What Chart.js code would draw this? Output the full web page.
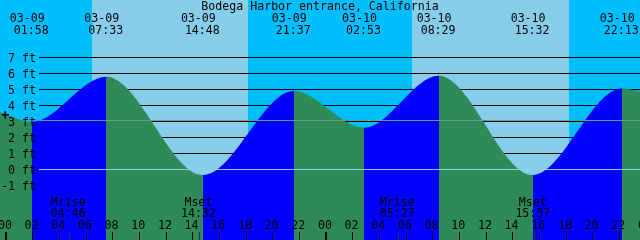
<!DOCTYPE html>
<html><head><meta charset="utf-8">
<script src="https://cdn.jsdelivr.net/npm/chart.js@4/dist/chart.umd.min.js"></script>
<style>html,body{margin:0;padding:0;background:#00BFFF;overflow:hidden}#wrap{width:640px;height:240px;position:relative}</style>
</head><body><div id="wrap"><canvas id="c"></canvas></div>
<script>
const chartTitle = 'Bodega Harbor entrance, California';
// curve points (hours since 03-09 00:00, feet)
const tideHours = [-0.42, 1.967, 7.55, 14.8, 21.617, 26.883, 32.483, 39.533, 46.217, 47.58];
const tideFeet  = [3.55, 2.95, 5.77, -0.38, 4.87, 2.58, 5.83, -0.38, 5.03, 4.85];
// high / low event labels
const eventHours = [1.967, 7.55, 14.8, 21.617, 26.883, 32.483, 39.533, 46.217];
const eventDates = ['03-09','03-09','03-09','03-09','03-10','03-10','03-10','03-10'];
const eventTimes = ['01:58','07:33','14:48','21:37','02:53','08:29','15:32','22:13'];
// daylight
const sunriseHours = [6.48, 30.48];
const sunsetHours  = [18.18, 42.26];
// moon events
const moonHours = [4.767, 14.533, 29.45, 39.617];
const moonNames = ['Mrise','Mset','Mrise','Mset'];
const moonTimes = ['04:46','14:32','05:27','15:37'];
// axis ticks
const hourTicks  = [0,2,4,6,8,10,12,14,16,18,20,22,24,26,28,30,32,34,36,38,40,42,44,46,48];
const hourLabels = ['00','02','04','06','08','10','12','14','16','18','20','22','00','02','04','06','08','10','12','14','16','18','20','22','00'];
const dayStartHours = [0, 24, 48];
const depthTicks  = [7,6,5,4,3,2,1,0,-1];
const depthLabels = ['7 ft','6 ft','5 ft','4 ft','3 ft','2 ft','1 ft','0 ft','-1 ft'];
const mslFeet = 3.06;
const datumFeet = 0;

const NIGHT = '#00BFFF', DAY = '#87CEEB', FLOOD = '#0000FF', EBB = '#2E8B57';
const FONT = '11.6px "DejaVu Sans Mono", monospace';

const points = tideHours.map((h, i) => ({x: h, y: tideFeet[i]}));

// horizontal gradient with hard stops: flood colour while rising, ebb while falling
function tideFill(context) {
  const chart = context.chart;
  const xs = chart.scales && chart.scales.x;
  if (!xs || !chart.chartArea) return FLOOD;
  const {left, right} = chart.chartArea;
  const g = chart.ctx.createLinearGradient(left, 0, right, 0);
  const off = h => Math.min(1, Math.max(0, (xs.getPixelForValue(h) - left) / (right - left)));
  for (let i = 0; i < tideHours.length - 1; i++) {
    const col = tideFeet[i + 1] > tideFeet[i] ? FLOOD : EBB;
    g.addColorStop(off(tideHours[i]), col);
    g.addColorStop(off(tideHours[i + 1]), col);
  }
  return g;
}

const deco = {
  id: 'deco',
  beforeDatasetsDraw(chart) {
    const {ctx} = chart;
    const xs = chart.scales.x, ys = chart.scales.y;
    ctx.save();
    ctx.fillStyle = NIGHT;
    ctx.fillRect(0, 0, 640, 240);
    ctx.fillStyle = DAY;
    for (let i = 0; i < sunriseHours.length; i++) {
      const a = Math.round(xs.getPixelForValue(sunriseHours[i]));
      const b = Math.round(xs.getPixelForValue(sunsetHours[i]));
      ctx.fillRect(a, 0, b - a, 240);
    }
    ctx.fillStyle = '#000';
    depthTicks.forEach(v => {
      const y = Math.round(ys.getPixelForValue(v));
      ctx.fillRect(39, y, 601, 1);
    });
    ctx.restore();
  },
  afterDatasetsDraw(chart) {
    const {ctx} = chart;
    const xs = chart.scales.x, ys = chart.scales.y;
    ctx.save();
    // MSL and datum lines
    ctx.fillStyle = '#5F9E96';
    ctx.fillRect(39, Math.round(ys.getPixelForValue(mslFeet)), 601, 1);
    ctx.fillStyle = '#90CDF0';
    ctx.fillRect(39, Math.round(ys.getPixelForValue(datumFeet)), 601, 1);

    ctx.font = FONT;
    ctx.fillStyle = '#000';
    ctx.textBaseline = 'alphabetic';
    ctx.textAlign = 'center';
    ctx.fillText(chartTitle, 320, 10);
    eventHours.forEach((h, i) => {
      const x = xs.getPixelForValue(h);
      ctx.fillText(eventDates[i], x - 4.6, 22);
      ctx.fillText(eventTimes[i], x - 0.6, 34);
    });
    ctx.textAlign = 'right';
    depthTicks.forEach((v, i) => {
      const y = ys.getPixelForValue(v);
      ctx.fillText(depthLabels[i], 36, y + 4.5);
    });
    // plus marker
    ctx.fillRect(2, 114, 7, 1.5);
    ctx.fillRect(4.5, 111, 1.5, 7.5);
    ctx.textAlign = 'center';
    moonHours.forEach((h, i) => {
      const x = xs.getPixelForValue(h);
      ctx.fillText(moonNames[i], x - 1, 206);
      ctx.fillText(moonTimes[i], x - 1, 217);
      ctx.fillStyle = '#333';
      ctx.fillRect(Math.round(x), 232, 1, 8);
      ctx.fillStyle = '#000';
    });
    hourTicks.forEach((h, i) => {
      const x = xs.getPixelForValue(h);
      ctx.fillText(hourLabels[i], x - 0.7, 229);
      const thick = dayStartHours.includes(h);
      ctx.fillRect(Math.round(x) - (thick ? 1 : 0), 232, thick ? 2 : 1, 8);
    });
    ctx.restore();
  }
};

new Chart(document.getElementById('c'), {
  type: 'line',
  data: {
    datasets: [{
      data: points,
      borderWidth: 0,
      borderColor: 'rgba(0,0,0,0)',
      pointRadius: 0,
      cubicInterpolationMode: 'monotone',
      fill: 'start',
      backgroundColor: tideFill
    }]
  },
  options: {
    responsive: true,
    maintainAspectRatio: false,
    animation: false,
    events: [],
    layout: {padding: 0},
    plugins: {legend: {display: false}, title: {display: false}, tooltip: {enabled: false}},
    scales: {
      x: {type: 'linear', min: -0.42, max: 47.58, display: false},
      y: {type: 'linear', min: -4.4375, max: 10.5625, display: false}
    }
  },
  plugins: [deco]
});
</script>
</body></html>
